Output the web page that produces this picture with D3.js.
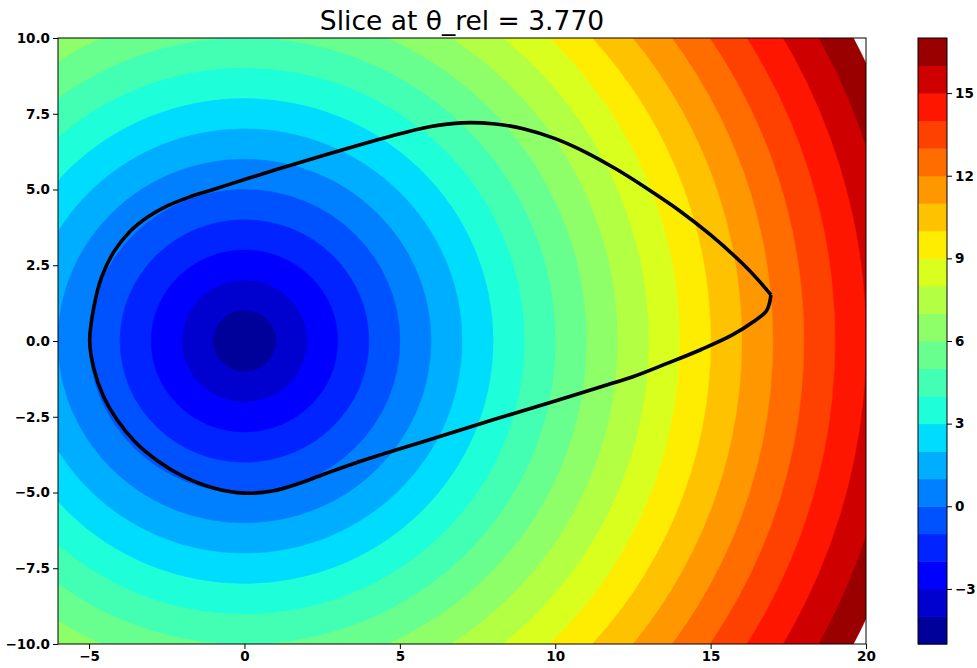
<!DOCTYPE html>
<html>
<head>
<meta charset="utf-8">
<script src="https://cdn.jsdelivr.net/npm/d3@7"></script>
<style>
  html, body { margin: 0; padding: 0; background: #fff; }
  svg { display: block; }
  text { font-family: "DejaVu Sans", sans-serif; fill: #000; }
</style>
</head>
<body>
<svg id="chart" width="977" height="668"></svg>
<script>
// Contour levels of the field (one band between each pair)
const levels = [-5, -4, -3, -2, -1, 0, 1, 2, 3, 4, 5, 6, 7, 8, 9, 10, 11, 12, 13, 14, 15, 16, 17];
// Radius (distance from the centre at 0,0) at which each level lies
const levelRadii = [0, 1, 2, 3, 4, 5, 6, 7, 8, 9, 10, 11, 12, 13, 14, 15, 16, 17, 18, 19, 20, 21, 22];

// Boundary curve of the slice, starting and ending at its sharp tip
const boundaryX = [16.94, 16.5, 16.0, 15.0, 14.0, 13.0, 12.0, 11.0, 10.0, 9.0, 8.0, 7.0, 6.0, 5.0, 4.0, 3.0, 2.0, 1.0, 0.0, -1.0, -1.8, -2.5, -3.1, -3.7, -4.2, -4.6, -4.85, -4.98, -4.85, -4.55, -4.1, -3.5, -2.8, -2.0, -1.0, 0.0, 0.9, 1.7, 2.6, 4.0, 6.0, 8.0, 10.0, 11.5, 12.5, 13.6, 14.7, 15.7, 16.35, 16.8, 16.94];
const boundaryY = [1.52, 2.05, 2.58, 3.5, 4.3, 5.0, 5.65, 6.22, 6.68, 7.0, 7.17, 7.2, 7.08, 6.84, 6.56, 6.26, 5.96, 5.65, 5.33, 5.0, 4.74, 4.45, 4.1, 3.6, 2.95, 2.1, 1.1, 0.0, -0.9, -1.8, -2.6, -3.35, -3.95, -4.45, -4.85, -5.02, -4.95, -4.72, -4.38, -3.88, -3.24, -2.6, -1.98, -1.5, -1.18, -0.74, -0.28, 0.2, 0.62, 1.0, 1.52];

const xTicks = [-5, 0, 5, 10, 15, 20];
const yTicks = [-10, -7.5, -5, -2.5, 0, 2.5, 5, 7.5, 10];
const cbTicks = [-3, 0, 3, 6, 9, 12, 15];
const titleText = "Slice at θ_rel = 3.770";

// Matplotlib "jet" colormap segments
const jetR = [[0, 0], [0.35, 0], [0.66, 1], [0.89, 1], [1, 0.5]];
const jetG = [[0, 0], [0.125, 0], [0.375, 1], [0.64, 1], [0.91, 0], [1, 0]];
const jetB = [[0, 0.5], [0.11, 1], [0.34, 1], [0.65, 0], [1, 0]];
function seg(pts, t) {
  for (let i = 1; i < pts.length; i++) {
    if (t <= pts[i][0]) {
      const [x0, y0] = pts[i - 1], [x1, y1] = pts[i];
      return y0 + (y1 - y0) * (t - x0) / (x1 - x0);
    }
  }
  return pts[pts.length - 1][1];
}
function jet(t) {
  t = Math.max(0, Math.min(1, t));
  return d3.rgb(255 * seg(jetR, t), 255 * seg(jetG, t), 255 * seg(jetB, t)).toString();
}

const svg = d3.select("#chart");
const plot = { left: 58, right: 866, top: 38, bottom: 644 };
const x = d3.scaleLinear().domain([-6, 20]).range([plot.left, plot.right]);
const y = d3.scaleLinear().domain([-10, 10]).range([plot.bottom, plot.top]);
const norm = d3.scaleLinear().domain([levels[0], levels[levels.length - 1]]).range([0, 1]);

// Bands: midpoint value of each pair of levels
const bands = d3.range(levels.length - 1).map(i => ({
  lo: levels[i], hi: levels[i + 1],
  rOuter: levelRadii[i + 1],
  color: jet(norm((levels[i] + levels[i + 1]) / 2))
}));

svg.append("defs").append("clipPath").attr("id", "plotClip")
  .append("rect")
  .attr("x", plot.left).attr("y", plot.top)
  .attr("width", plot.right - plot.left).attr("height", plot.bottom - plot.top);

const field = svg.append("g").attr("clip-path", "url(#plotClip)");
// Largest first so inner bands paint on top
field.selectAll("ellipse")
  .data(bands.slice().reverse())
  .join("ellipse")
  .attr("cx", x(0)).attr("cy", y(0))
  .attr("rx", d => x(d.rOuter) - x(0))
  .attr("ry", d => y(0) - y(d.rOuter))
  .attr("fill", d => d.color)
  .attr("stroke", d => d.color)
  .attr("stroke-width", 0.6);

// Boundary curve
const boundary = boundaryX.map((bx, i) => [bx, boundaryY[i]]);
field.append("path")
  .datum(boundary)
  .attr("d", d3.line().x(d => x(d[0])).y(d => y(d[1])).curve(d3.curveCatmullRom.alpha(0.5)))
  .attr("fill", "none")
  .attr("stroke", "#000")
  .attr("stroke-width", 3.6)
  .attr("stroke-linejoin", "miter");

// Axes
const fmtMinus = s => s.replace("-", "\u2212");
const xAxis = d3.axisBottom(x).tickValues(xTicks).tickSize(5).tickPadding(3)
  .tickFormat(d => fmtMinus(d3.format("d")(d)));
const yAxis = d3.axisLeft(y).tickValues(yTicks).tickSize(5).tickPadding(3)
  .tickFormat(d => fmtMinus(d3.format(".1f")(d)));

const gx = svg.append("g").attr("transform", `translate(0,${plot.bottom})`).call(xAxis);
const gy = svg.append("g").attr("transform", `translate(${plot.left},0)`).call(yAxis);
[gx, gy].forEach(g => {
  g.select(".domain").remove();
  g.selectAll("line").attr("stroke", "#000").attr("stroke-width", 1);
  g.selectAll("text").attr("font-size", 13.5).attr("font-weight", "bold")
    .attr("font-family", "DejaVu Sans, sans-serif").attr("fill", "#000");
});
gx.selectAll("text").attr("dy", "0.68em");

svg.append("rect")
  .attr("x", plot.left).attr("y", plot.top)
  .attr("width", plot.right - plot.left).attr("height", plot.bottom - plot.top)
  .attr("fill", "none").attr("stroke", "#000").attr("stroke-width", 1);

// Title
svg.append("text")
  .attr("x", (plot.left + plot.right) / 2).attr("y", 30)
  .attr("text-anchor", "middle")
  .attr("font-size", 26.5)
  .text(titleText);

// Colorbar
const cb = { left: 918, right: 947, top: 38, bottom: 644 };
const cy = d3.scaleLinear().domain([levels[0], levels[levels.length - 1]]).range([cb.bottom, cb.top]);
const cbG = svg.append("g");
cbG.selectAll("rect.band")
  .data(bands)
  .join("rect")
  .attr("class", "band")
  .attr("x", cb.left)
  .attr("width", cb.right - cb.left)
  .attr("y", d => cy(d.hi))
  .attr("height", d => cy(d.lo) - cy(d.hi) + 0.5)
  .attr("fill", d => d.color);
cbG.append("rect")
  .attr("x", cb.left).attr("y", cb.top)
  .attr("width", cb.right - cb.left).attr("height", cb.bottom - cb.top)
  .attr("fill", "none").attr("stroke", "#000").attr("stroke-width", 1);

const cAxis = d3.axisRight(cy).tickValues(cbTicks).tickSize(5).tickPadding(3)
  .tickFormat(d => fmtMinus(d3.format("d")(d)));
const gc = svg.append("g").attr("transform", `translate(${cb.right},0)`).call(cAxis);
gc.select(".domain").remove();
gc.selectAll("line").attr("stroke", "#000");
gc.selectAll("text").attr("font-size", 13.5).attr("font-weight", "bold")
  .attr("font-family", "DejaVu Sans, sans-serif").attr("fill", "#000");
</script>
</body>
</html>
